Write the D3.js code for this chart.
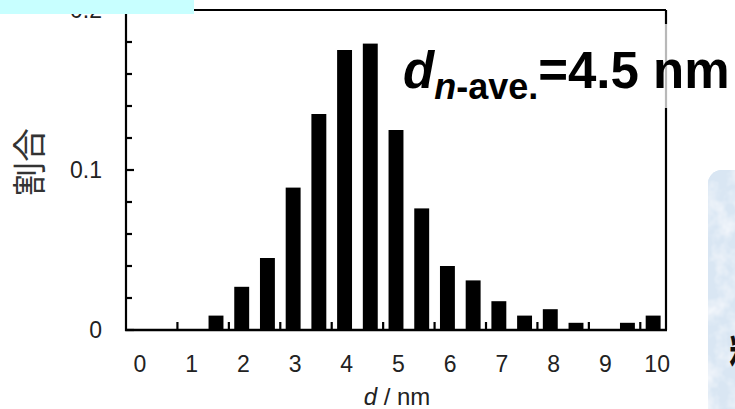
<!DOCTYPE html>
<html>
<head>
<meta charset="utf-8">
<script src="https://cdn.jsdelivr.net/npm/d3@7"></script>
<style>
  html, body { margin: 0; padding: 0; background: #fff; }
  svg { display: block; }
</style>
</head>
<body>
<svg id="chart" width="735" height="409"></svg>
<script>
// Particle size histogram: share of particles per 0.5 nm diameter class
const diameters = ["0","0.5","1","1.5","2","2.5","3","3.5","4","4.5","5",
                   "5.5","6","6.5","7","7.5","8","8.5","9","9.5","10"];
const fractions = [0, 0, 0, 0.009, 0.027, 0.045, 0.089, 0.135, 0.175, 0.179, 0.125,
                   0.076, 0.040, 0.031, 0.018, 0.009, 0.013, 0.0045, 0, 0.0045, 0.009];
const xTickLabels = ["0","1","2","3","4","5","6","7","8","9","10"];
const yMajorTicks = [0, 0.1, 0.2];
const yMinorTicks = [0.02, 0.04, 0.06, 0.08, 0.12, 0.14, 0.16, 0.18];
const yTickLabels = ["0", "0.1", "0.2"];

const svg = d3.select("#chart");
const plot = { left: 126, right: 666, top: 10, bottom: 330 };

const x = d3.scaleBand()
  .domain(diameters)
  .range([plot.left, plot.right])
  .paddingInner(0.42)
  .paddingOuter(0.21);

const y = d3.scaleLinear()
  .domain([0, 0.2])
  .range([plot.bottom, plot.top]);

// texture for the side panel
const defs = svg.append("defs");
const tex = defs.append("filter").attr("id", "paper")
  .attr("x", 0).attr("y", 0).attr("width", 1).attr("height", 1);
tex.append("feTurbulence").attr("type", "fractalNoise")
  .attr("baseFrequency", 0.06).attr("numOctaves", 3).attr("seed", 7).attr("result", "noise");
tex.append("feColorMatrix").attr("in", "noise").attr("type", "matrix")
  .attr("values", "0 0 0 0 0.93  0 0 0 0 0.95  0 0 0 0 0.98  0 0 0 -1.6 1.0")
  .attr("result", "spots");
tex.append("feComposite").attr("in", "spots").attr("in2", "SourceGraphic").attr("operator", "atop");

// side panel
svg.append("rect")
  .attr("x", 708).attr("y", 170).attr("width", 80).attr("height", 280)
  .attr("rx", 14)
  .attr("fill", "#d9e6f3");
svg.append("rect")
  .attr("x", 708).attr("y", 170).attr("width", 80).attr("height", 280)
  .attr("rx", 14)
  .attr("fill", "#d9e6f3")
  .attr("filter", "url(#paper)");
svg.append("text")
  .attr("x", 729).attr("y", 367)
  .attr("font-family", "'Noto Sans CJK JP', sans-serif")
  .attr("font-weight", 700)
  .attr("font-size", 40)
  .attr("fill", "#111")
  .text("粒");

// bars
svg.append("g").selectAll("rect")
  .data(diameters.map((d, i) => ({ d, v: fractions[i] })))
  .join("rect")
  .attr("x", p => x(p.d))
  .attr("width", x.bandwidth())
  .attr("y", p => y(p.v))
  .attr("height", p => y(0) - y(p.v))
  .attr("fill", "#000");

// frame
const frame = svg.append("g").attr("stroke", "#000").attr("stroke-width", 2.2).attr("fill", "none");
frame.append("line").attr("x1", plot.left).attr("x2", plot.right).attr("y1", y(0.2)).attr("y2", y(0.2));
frame.append("line").attr("x1", plot.right).attr("x2", plot.right).attr("y1", y(0.2)).attr("y2", y(0));
frame.append("line").attr("x1", plot.left).attr("x2", plot.left).attr("y1", y(0.2)).attr("y2", y(0) + 1);
frame.append("line").attr("x1", plot.left - 1).attr("x2", plot.right + 1).attr("y1", y(0)).attr("y2", y(0))
  .attr("stroke-width", 2.6);

// y ticks (inward)
const yt = svg.append("g").attr("stroke", "#000").attr("stroke-width", 2.2);
yt.selectAll("line.minor").data(yMinorTicks).join("line").attr("class", "minor")
  .attr("x1", plot.left).attr("x2", plot.left + 6)
  .attr("y1", d => y(d)).attr("y2", d => y(d));
yt.selectAll("line.major").data(yMajorTicks).join("line").attr("class", "major")
  .attr("x1", plot.left).attr("x2", plot.left + 8)
  .attr("y1", d => y(d)).attr("y2", d => y(d));

// x ticks between classes, one every 1 nm
const step = x.step();
const gap = step * x.paddingInner() / 2;
const xTickPos = diameters.filter((d, i) => i > 0 && i % 2 === 0).map(d => x(d) - gap);
svg.append("g").attr("stroke", "#000").attr("stroke-width", 2.2)
  .selectAll("line").data(xTickPos).join("line")
  .attr("x1", d => d).attr("x2", d => d)
  .attr("y1", y(0)).attr("y2", y(0) - 8);

// tick labels
const labelFont = "'Liberation Sans', Arial, sans-serif";
svg.append("g").selectAll("text").data(yMajorTicks).join("text")
  .attr("x", 102).attr("y", d => y(d) + 8)
  .attr("text-anchor", "end")
  .attr("font-family", labelFont).attr("font-size", 23).attr("fill", "#222")
  .text((d, i) => yTickLabels[i]);

svg.append("g").selectAll("text").data(xTickLabels).join("text")
  .attr("x", (d, i) => x(d) + x.bandwidth() / 2 + 1 + i * 0.3)
  .attr("y", 372)
  .attr("text-anchor", "middle")
  .attr("font-family", labelFont).attr("font-size", 23).attr("fill", "#222")
  .text(d => d);

// axis titles
const xt = svg.append("text")
  .attr("x", (plot.left + plot.right) / 2 + 1).attr("y", 405)
  .attr("text-anchor", "middle")
  .attr("font-family", labelFont).attr("font-size", 24).attr("fill", "#222");
xt.append("tspan").attr("font-style", "italic").text("d");
xt.append("tspan").text(" / nm");

svg.append("text")
  .attr("transform", "translate(42,162) rotate(-90)")
  .attr("text-anchor", "middle")
  .attr("font-family", "'Noto Sans CJK JP', sans-serif")
  .attr("font-size", 34).attr("fill", "#333")
  .text("割合");

// header strip over the top-left corner
svg.append("rect").attr("x", 0).attr("y", 0).attr("width", 194).attr("height", 14)
  .attr("fill", "#c8ffff");

// mean diameter annotation
svg.append("rect").attr("x", 398).attr("y", 24).attr("width", 337).attr("height", 84)
  .attr("fill", "#fff").attr("fill-opacity", 0.72);
const ann = svg.append("text")
  .attr("x", 403).attr("y", 88)
  .attr("font-family", labelFont).attr("font-weight", 700).attr("fill", "#000");
ann.append("tspan").attr("font-size", 51).attr("font-style", "italic").text("d");
ann.append("tspan").attr("font-size", 36).attr("font-style", "italic").attr("dy", 11).text("n");
ann.append("tspan").attr("font-size", 36).text("-ave.");
ann.append("tspan").attr("font-size", 51).attr("dy", -11).text("=4.5 nm");
</script>
</body>
</html>
